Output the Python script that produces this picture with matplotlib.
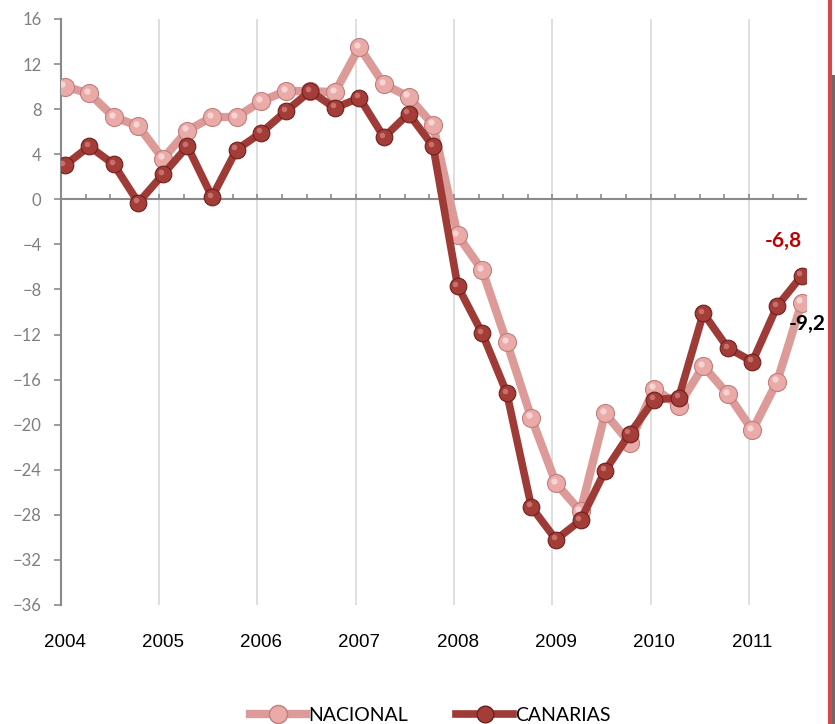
import numpy as np
import matplotlib
matplotlib.use("Agg")
import matplotlib.pyplot as plt
from matplotlib import transforms
from matplotlib.lines import Line2D
from matplotlib.patches import Rectangle

# quarterly series, 2004 Q1 .. 2011 Q3 (year-on-year %)
years = ["2004", "2005", "2006", "2007", "2008", "2009", "2010", "2011"]
nacional = [10.0, 9.4, 7.3, 6.5, 3.6, 6.1, 7.3, 7.3,
            8.7, 9.6, 9.6, 9.5, 13.5, 10.2, 9.1, 6.6,
            -3.2, -6.3, -12.7, -19.4, -25.2, -27.7, -19.0, -21.6,
            -16.8, -18.3, -14.8, -17.3, -20.5, -16.2, -9.2]
canarias = [3.0, 4.7, 3.1, -0.3, 2.2, 4.7, 0.2, 4.4,
            5.9, 7.8, 9.6, 8.1, 9.0, 5.5, 7.6, 4.7,
            -7.7, -11.9, -17.2, -27.3, -30.2, -28.5, -24.1, -20.8,
            -17.8, -17.6, -10.1, -13.2, -14.4, -9.5, -6.8]
label_nac = "-9,2"
label_can = "-6,8"

PINK, PINK_BALL, PINK_EDGE = "#dc9a98", "#eaaaa8", "#c07f7d"
DARK, DARK_BALL, DARK_EDGE = "#9e3b37", "#a43c38", "#6f1f1d"
GREY = "#8a8a8a"

fig = plt.figure(figsize=(8.35, 7.24), dpi=100)
ax = fig.add_axes([0.073, 0.1644, 0.892, 0.8094])

n = len(nacional)
x = np.arange(n) + 0.15          # points sit just right of the quarter ticks
ymin, ymax = -36, 16
ax.set_xlim(0, 30.32)
ax.set_ylim(ymin, ymax)

# year gridlines every 4 quarters
for k in range(4, n, 4):
    ax.axvline(k, color="#d9d9d9", lw=1.2, zorder=0)

hl = transforms.offset_copy(ax.transData, fig=fig, x=-1.6, y=1.8, units="points")

ax.plot(x, nacional, color=PINK, lw=6, solid_joinstyle="round", zorder=3,
        marker="o", ms=13, mfc=PINK_BALL, mec=PINK_EDGE, mew=0.8)
ax.plot(x, nacional, ls="none", marker="o", ms=4.5, mfc="#f8dcdb", mec="none",
        alpha=0.85, transform=hl, zorder=3.1)
ax.plot(x, canarias, color=DARK, lw=5.5, solid_joinstyle="round", zorder=4,
        marker="o", ms=12, mfc=DARK_BALL, mec=DARK_EDGE, mew=0.8)
ax.plot(x, canarias, ls="none", marker="o", ms=4, mfc="#cf7a75", mec="none",
        alpha=0.85, transform=hl, zorder=4.1)

# end labels
ax.annotate(label_can, (x[-1], canarias[-1]), xytext=(-13, 25), textcoords="offset points",
            ha="center", va="center", fontsize=15, fontweight="bold", color="#c00000",
            family=["Lato", "DejaVu Sans"])
ax.annotate(label_nac, (x[-1], nacional[-1]), xytext=(4, -15), textcoords="offset points",
            ha="center", va="center", fontsize=15, fontweight="bold", color="black",
            family=["Lato", "DejaVu Sans"])

# y axis
for s in ("top", "right", "bottom"):
    ax.spines[s].set_visible(False)
ax.spines["left"].set_color(GREY)
ax.spines["left"].set_linewidth(1.5)
ax.set_yticks(np.arange(ymin, ymax + 1, 4))
ax.tick_params(axis="y", length=5, width=1.2, color=GREY, pad=9,
               labelsize=12, labelcolor="#7f7f7f")
for t in ax.get_yticklabels():
    t.set_family(["Lato", "DejaVu Sans"])

# year labels under the plot
ax.set_xticks(x[::4])
ax.set_xticklabels(years, fontsize=13.5, color="black",
                   family=["Liberation Sans", "DejaVu Sans"])
ax.tick_params(axis="x", length=0, pad=21)

# zero axis with quarter tick marks pointing up
zax = ax.secondary_xaxis((0 - ymin) / (ymax - ymin))
zax.set_alignment("bottom")
zax.set_xticks(np.arange(n))
zax.set_xticklabels([])
zax.tick_params(axis="x", direction="in", length=3.5, width=1.2, color=GREY)
for s in zax.spines.values():
    s.set_color(GREY)
    s.set_linewidth(1.5)

# legend
handles = [Line2D([], [], color=PINK, lw=6, marker="o", ms=13, mfc=PINK_BALL, mec=PINK_EDGE),
           Line2D([], [], color=DARK, lw=5.5, marker="o", ms=12, mfc=DARK_BALL, mec=DARK_EDGE)]
fig.legend(handles, ["NACIONAL", "CANARIAS"], loc="center", bbox_to_anchor=(0.515, 0.012),
           ncol=2, frameon=False, handlelength=2.9, handletextpad=0.1, columnspacing=2.5,
           prop={"family": ["Lato", "DejaVu Sans"], "size": 14})

# slide border at the right edge
fig.add_artist(Rectangle((832 / 835, 0), 3 / 835, 1 - 75 / 724, transform=fig.transFigure,
                         color="#6a6a6a", lw=0))
fig.add_artist(Line2D([830 / 835, 830 / 835], [0, 1], transform=fig.transFigure,
                      color="#d24b4b", lw=3))

fig.savefig("out.png", dpi=100)
